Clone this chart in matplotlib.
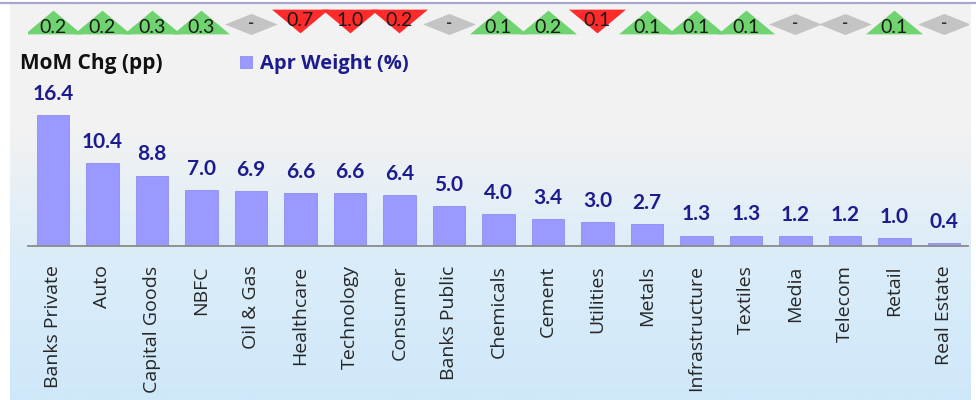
import numpy as np
import matplotlib.pyplot as plt
from matplotlib.colors import to_rgb
from matplotlib.lines import Line2D

# Datos
sectores = ['Banks Private', 'Auto', 'Capital Goods', 'NBFC', 'Oil & Gas', 'Healthcare',
            'Technology', 'Consumer', 'Banks Public', 'Chemicals', 'Cement', 'Utilities',
            'Metals', 'Infrastructure', 'Textiles', 'Media', 'Telecom', 'Retail', 'Real Estate']
peso_abr = [16.4, 10.4, 8.8, 7.0, 6.9, 6.6, 6.6, 6.4, 5.0, 4.0, 3.4, 3.0, 2.7,
            1.3, 1.3, 1.2, 1.2, 1.0, 0.4]
# cambio MoM (pp): signo da la direccion, 0 = sin cambio
cambio_mom = [0.2, 0.2, 0.3, 0.3, 0.0, -0.7, -1.0, -0.2, 0.0, 0.1, 0.2, -0.1,
              0.1, 0.1, 0.1, 0.0, 0.0, 0.1, 0.0]

plt.rcParams['font.family'] = ['Lato', 'DejaVu Sans']

W, H = 976, 400
fig = plt.figure(figsize=(W / 100, H / 100), dpi=100)

# Fondo con degradado gris -> azul claro
bg = fig.add_axes([10 / W, 0, (971 - 10) / W, (H - 4) / H])
bg.set_axis_off()
filas = np.linspace(4, 400, 300)
gris, azul1, azul2 = np.array(to_rgb('#f2f2f2')), np.array(to_rgb('#dcedf9')), np.array(to_rgb('#cfe8fa'))
grad = []
for y in filas:
    if y < 130:
        c = gris
    elif y < 250:
        t = (y - 130) / 120
        c = gris * (1 - t) + azul1 * t
    else:
        t = (y - 250) / 150
        c = azul1 * (1 - t) + azul2 * t
    grad.append(c)
grad = np.array(grad)[:, None, :]
bg.imshow(grad, aspect='auto', extent=[0, 1, 0, 1])

# linea superior
fig.add_artist(Line2D([0, 1], [1 - 3 / H, 1 - 3 / H], color='#a8a8cc', lw=1.6))

# Eje de barras
x = np.arange(len(sectores))
xlim = (-0.505, 18.485)
ax = fig.add_axes([28 / W, (H - 246) / H, 940 / W, (246 - 5) / H])
ax.patch.set_alpha(0)
ax.bar(x, peso_abr, width=0.65, color='#9999ff', edgecolor='#8c8cf2', linewidth=0.6,
       label='Apr Weight (%)')
ax.set_xlim(*xlim)
ax.set_ylim(0, 241 / 8)
for xi, v in zip(x, peso_abr):
    ax.annotate(f'{v:.1f}', (xi, v), xytext=(0, 8), textcoords='offset points',
                ha='center', va='bottom', fontsize=15, fontweight='bold', color='#1c1c8e')
for s in ['top', 'right', 'left']:
    ax.spines[s].set_visible(False)
ax.spines['bottom'].set_color('#8a8a8a')
ax.spines['bottom'].set_linewidth(1.3)
ax.set_yticks([])
ax.set_xticks(x)
ax.set_xticklabels(sectores, rotation=90, fontsize=14, color='#262626',
                   family=['Open Sans', 'DejaVu Sans'])
ax.tick_params(axis='x', length=0, pad=14)

# Leyenda
fig.text(20 / W, 1 - 64 / H, 'MoM Chg (pp)', fontsize=15, fontweight='bold',
         color='#111111', va='center', family=['Open Sans', 'DejaVu Sans'])
leg = ax.legend(loc='center left', bbox_to_anchor=(230 / W, 1 - 64 / H),
                bbox_transform=fig.transFigure, frameon=False, handlelength=0.6,
                handleheight=0.6, handletextpad=0.4, borderpad=0,
                prop={'size': 14.5, 'weight': 'bold', 'family': ['Open Sans', 'DejaVu Sans']})
for t in leg.get_texts():
    t.set_color('#1c1c8e')

# Franja superior con triangulos
strip = fig.add_axes([28 / W, 1 - 40 / H, 940 / W, 40 / H])
strip.set_axis_off()
strip.set_xlim(*xlim)
strip.set_ylim(40, 0)
tri_up = [(-1.2, -0.5), (1.2, -0.5), (0, 0.5), (-1.2, -0.5)]
tri_dn = [(-1.2, 0.5), (1.2, 0.5), (0, -0.5), (-1.2, 0.5)]
rombo = [(-1.25, 0), (0, 0.5), (1.25, 0), (0, -0.5), (-1.25, 0)]
for xi, c in zip(x, cambio_mom):
    if c > 0:
        strip.plot(xi, 21.5, marker=tri_up, markersize=41, color='#6fd36f', mec='none')
        strip.text(xi, 27.5, f'{c:.1f}', ha='center', va='center', fontsize=14,
                   color='#1a1a1a')
    elif c < 0:
        strip.plot(xi, 20.5, marker=tri_dn, markersize=41, color='#ff2b2b', mec='none')
        strip.text(xi, 20, f'{abs(c):.1f}', ha='center', va='center', fontsize=14,
                   color='#1a1a1a')
    else:
        strip.plot(xi, 24, marker=rombo, markersize=38, color='#c4c4c4', mec='none')
        strip.text(xi, 23.5, '-', ha='center', va='center', fontsize=12,
                   color='#333333', fontweight='bold')

plt.savefig('out.png', dpi=100)
plt.close()
